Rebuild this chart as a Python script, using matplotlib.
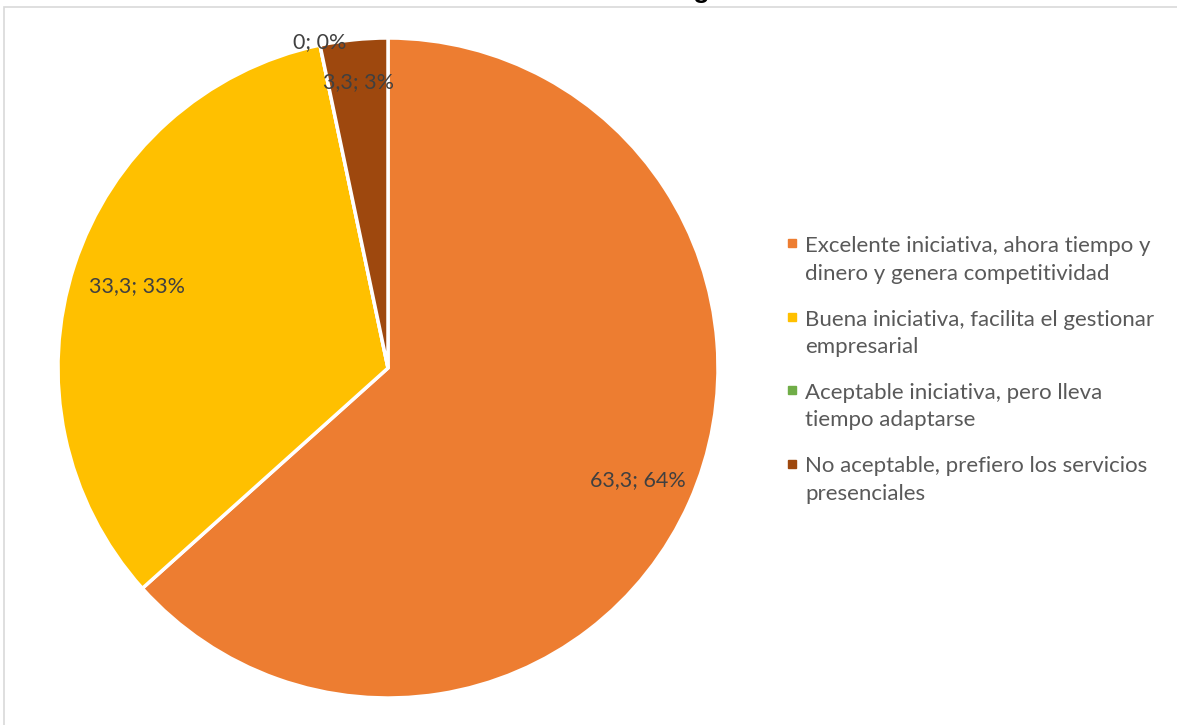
import matplotlib.pyplot as plt
import numpy as np
from matplotlib.lines import Line2D
from matplotlib.patches import Rectangle

plt.rcParams['font.family'] = ['Lato', 'DejaVu Sans']

title = "Servicios de manera digital"
categories = [
    "Excelente iniciativa, ahora tiempo y\ndinero y genera competitividad",
    "Buena iniciativa, facilita el gestionar\nempresarial",
    "Aceptable iniciativa, pero lleva\ntiempo adaptarse",
    "No aceptable, prefiero los servicios\npresenciales",
]
values = [63.3, 33.3, 0.0, 3.3]
value_labels = ["63,3", "33,3", "0", "3,3"]
pct_labels = ["64%", "33%", "0%", "3%"]
colors = ["#ED7D31", "#FFC000", "#70AD47", "#9E480E"]
label_dist = [0.83, 0.80, 1.01, 0.87]

W, H = 1177, 725
fig = plt.figure(figsize=(W / 100, H / 100), dpi=100)


def fx(px):
    return px / W


def fy(py):
    return 1 - py / H


# chart area border (only top and left edges fall inside the image)
fig.patches.append(Rectangle((fx(3.5), -0.1), 1.2, 1.1 - 7.5 / H,
                             transform=fig.transFigure, fill=False,
                             edgecolor="#D9D9D9", linewidth=1.2))

cx, cy, r = 388, 368, 330
ax = fig.add_axes([fx(cx - r), (H - cy - r) / H, 2 * r / W, 2 * r / H])
wedges, _ = ax.pie(values, colors=colors, startangle=90, counterclock=False,
                   radius=1, wedgeprops=dict(edgecolor="white", linewidth=2.5))
ax.set_xlim(-1, 1)
ax.set_ylim(-1, 1)
ax.set_aspect("equal")
ax.axis("off")

for w, v, p, d in zip(wedges, value_labels, pct_labels, label_dist):
    ang = np.deg2rad((w.theta1 + w.theta2) / 2)
    ax.text(d * np.cos(ang), d * np.sin(ang), f"{v}; {p}", ha="center",
            va="center", fontsize=15.5, color="#404040")

fig.text(0.49, 1 + 2.0 / H, title, ha="center", va="baseline",
         fontsize=19, fontweight="bold", color="#000000",
         family=["Liberation Sans", "DejaVu Sans"])

# legend: square marker beside the first line of each wrapped label
base0, pitch, line_gap = 252, 73.5, 27.5
for i, (lab, c) in enumerate(zip(categories, colors)):
    b = base0 + i * pitch
    fig.add_artist(Line2D([fx(792)], [fy(b - 9)], transform=fig.transFigure,
                          marker="s", markersize=6, linestyle="none",
                          markerfacecolor=c, markeredgecolor=c))
    for j, line in enumerate(lab.split("\n")):
        fig.text(fx(805), fy(b + j * line_gap), line, ha="left",
                 va="baseline", fontsize=16, color="#595959")

fig.savefig("out.png", dpi=100)
